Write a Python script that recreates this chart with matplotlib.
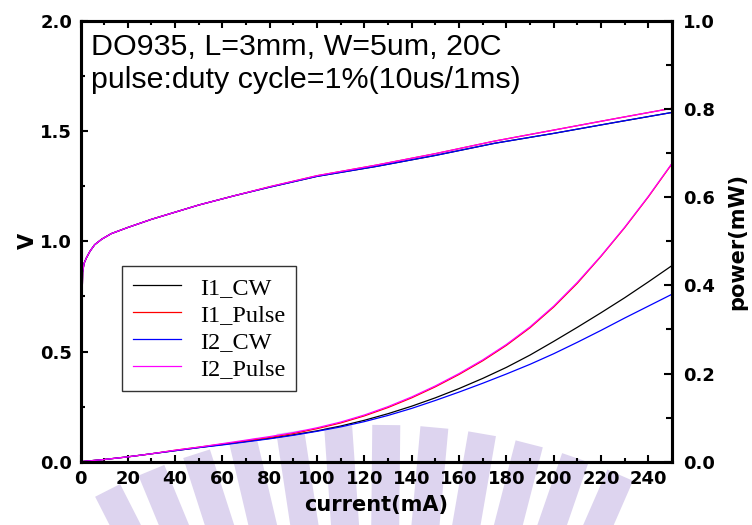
import numpy as np
import matplotlib
matplotlib.use("Agg")
import matplotlib.pyplot as plt
from matplotlib.patches import Polygon
from matplotlib.transforms import Affine2D
from matplotlib.ticker import MultipleLocator

# Voltage sweep (left axis)
v_current = [0, 0.3, 0.6, 0.9, 1.5, 2.5, 4, 6, 9, 13, 20, 30, 42, 50, 65, 80,
             100, 125, 150, 175, 200, 225, 250]
v_cw = [0, 0.35, 0.70, 0.86, 0.90, 0.925, 0.955, 0.985, 1.01, 1.035, 1.063,
        1.100, 1.139, 1.165, 1.207, 1.246, 1.295, 1.340, 1.390, 1.445, 1.490,
        1.538, 1.585]
v_pulse = [0, 0.35, 0.70, 0.86, 0.90, 0.925, 0.955, 0.985, 1.01, 1.035, 1.063,
           1.100, 1.139, 1.165, 1.207, 1.248, 1.298, 1.346, 1.398, 1.455, 1.505,
           1.555, 1.604]

# Optical power (right axis)
p_current = [0, 10, 20, 30, 40, 50, 60, 70, 80, 90, 100, 110, 120, 130, 140,
             150, 160, 170, 180, 190, 200, 210, 220, 230, 240, 250]
p_i1_cw = [0, 0.005, 0.011, 0.018, 0.025, 0.032, 0.039, 0.046, 0.053, 0.061,
           0.070, 0.081, 0.094, 0.109, 0.126, 0.145, 0.166, 0.189, 0.214,
           0.242, 0.273, 0.305, 0.338, 0.372, 0.408, 0.445]
p_i1_pulse = [0, 0.005, 0.011, 0.018, 0.026, 0.033, 0.040, 0.047, 0.055, 0.064,
              0.075, 0.088, 0.104, 0.123, 0.145, 0.170, 0.198, 0.229, 0.264,
              0.304, 0.351, 0.405, 0.466, 0.531, 0.601, 0.676]
p_i2_cw = [0, 0.005, 0.011, 0.018, 0.025, 0.032, 0.038, 0.045, 0.052, 0.060,
           0.069, 0.079, 0.091, 0.105, 0.121, 0.139, 0.158, 0.178, 0.199,
           0.221, 0.245, 0.271, 0.298, 0.326, 0.353, 0.380]
p_i2_pulse = [0, 0.005, 0.011, 0.018, 0.026, 0.033, 0.041, 0.049, 0.057, 0.066,
              0.077, 0.090, 0.106, 0.125, 0.147, 0.172, 0.200, 0.231, 0.266,
              0.306, 0.353, 0.407, 0.467, 0.532, 0.602, 0.677]

labels = ["I1_CW", "I1_Pulse", "I2_CW", "I2_Pulse"]
colors = ["black", "red", "blue", "magenta"]

W, H = 752, 525
fig = plt.figure(figsize=(W / 100, H / 100), dpi=100)

# pixel coordinates (origin top-left) -> figure
px = Affine2D().scale(1 / W, -1 / H).translate(0, 1) + fig.transFigure

# faint lavender logo in the background
cx, cy, r_in, r_out, half_w = 380, 1025, 470, 600, 14
for ang in np.arange(-27, 24.5, 4.6):
    a = np.radians(ang)
    d = np.array([np.sin(a), -np.cos(a)])
    n = np.array([np.cos(a), np.sin(a)])
    c = np.array([cx, cy])
    pts = [c + r_in * d - half_w * n, c + r_out * d - half_w * n,
           c + r_out * d + half_w * n, c + r_in * d + half_w * n]
    fig.add_artist(Polygon(pts, closed=True, transform=px, facecolor="#ddd4ef",
                           edgecolor="none", zorder=0))

left, right, top, bottom = 80.5, 672, 21, 461.7
ax = fig.add_axes([left / W, 1 - bottom / H, (right - left) / W, (bottom - top) / H])
ax.patch.set_alpha(0)
ax2 = ax.twinx()

tick_font = dict(family="DejaVu Sans", weight="bold", size=13)
label_font = dict(family="DejaVu Sans", weight="bold", size=15)

# voltage curves
for vals, col in zip([v_cw, v_pulse, v_cw, v_pulse], colors):
    ax.plot(v_current, vals, color=col, lw=0.9)

# power curves
handles = []
for vals, col, lab in zip([p_i1_cw, p_i1_pulse, p_i2_cw, p_i2_pulse], colors, labels):
    h, = ax2.plot(p_current, vals, color=col, lw=0.9, label=lab)
    handles.append(h)

ax.set_xlim(0, 250)
ax.set_ylim(0, 2.0)
ax2.set_ylim(0, 1.0)

ax.xaxis.set_major_locator(MultipleLocator(20))
ax.xaxis.set_minor_locator(MultipleLocator(10))
ax.yaxis.set_major_locator(MultipleLocator(0.5))
ax.yaxis.set_minor_locator(MultipleLocator(0.25))
ax2.yaxis.set_major_locator(MultipleLocator(0.2))
ax2.yaxis.set_minor_locator(MultipleLocator(0.1))

for a in (ax, ax2):
    for s in a.spines.values():
        s.set_linewidth(2.2)

ax.tick_params(axis="x", which="both", direction="in", top=True, width=1.5)
ax.tick_params(axis="x", which="major", length=5, pad=6)
ax.tick_params(axis="x", which="minor", length=3)
ax.tick_params(axis="y", which="both", direction="in", width=1.5)
ax.tick_params(axis="y", which="major", length=5, pad=6)
ax.tick_params(axis="y", which="minor", length=3)
ax2.tick_params(axis="y", which="both", direction="in", width=1.5)
ax2.tick_params(axis="y", which="major", length=6, pad=8)
ax2.tick_params(axis="y", which="minor", length=4)

ax.set_xticks(np.arange(0, 241, 20))
ax.set_xticklabels([str(v) for v in range(0, 241, 20)], **tick_font)
ax.set_yticks([0, 0.5, 1.0, 1.5, 2.0])
ax.set_yticklabels(["0.0", "0.5", "1.0", "1.5", "2.0"], **tick_font)
ax2.set_yticks([0, 0.2, 0.4, 0.6, 0.8, 1.0])
ax2.set_yticklabels(["0.0", "0.2", "0.4", "0.6", "0.8", "1.0"], **tick_font)

ax.set_xlabel("current(mA)", labelpad=5, **label_font)
ax.set_ylabel("V", labelpad=2, **label_font)
ax2.set_ylabel("power(mW)", labelpad=9, **label_font)

note = dict(transform=px, ha="left", va="center", family="Liberation Sans",
            fontsize=21.9)
fig.text(91, 47, "DO935, L=3mm, W=5um, 20C", **note)
fig.text(91, 80, "pulse:duty cycle=1%(10us/1ms)", **note)

leg = ax2.legend(handles=handles, loc="upper left", bbox_to_anchor=(0.07, 0.444),
                 borderaxespad=0, frameon=True, fancybox=False,
                 prop=dict(family="Liberation Serif", size=17.5),
                 handlelength=2.0, handletextpad=0.75, labelspacing=0.2,
                 borderpad=0.45, handleheight=0.7)
leg.get_frame().set_edgecolor("black")
leg.get_frame().set_linewidth(1.0)

fig.savefig("out.png", dpi=100)
